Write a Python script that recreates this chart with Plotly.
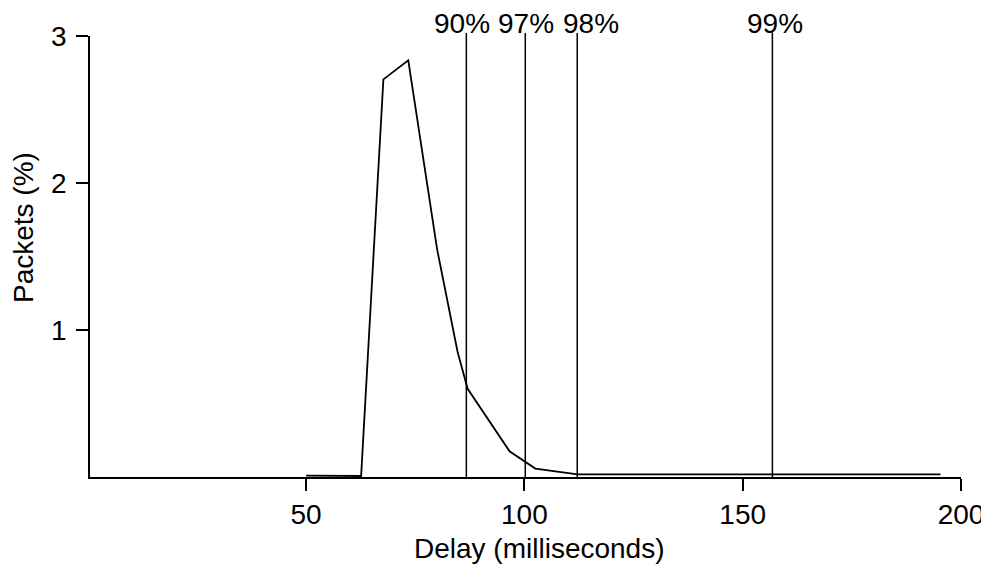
import plotly.graph_objects as go

delay_ms = [50, 62.6, 67.7, 73.4, 80.0, 84.7, 87.0, 96.6, 102.5, 112.2, 195.3]
packets_pct = [0.01, 0.007, 2.705, 2.834, 1.55, 0.85, 0.60, 0.175, 0.057, 0.018, 0.018]

pct_labels = ["90%", "97%", "98%", "99%"]
pct_delay = [86.7, 100.2, 112.1, 156.8]
label_shift = [-4, 1, 14, 3]

x_ticks = [50, 100, 150, 200]
y_ticks = [1, 2, 3]

FONT = "Liberation Sans, Arial, Helvetica, sans-serif"
FS = 28

fig = go.Figure()
fig.add_trace(go.Scatter(x=delay_ms, y=packets_pct, mode="lines",
                         line=dict(color="black", width=1.8), showlegend=False,
                         cliponaxis=False))

for lab, xv, sh in zip(pct_labels, pct_delay, label_shift):
    fig.add_shape(type="line", xref="x", yref="paper", x0=xv, x1=xv, y0=0, y1=1.007,
                  line=dict(color="black", width=1.5))
    fig.add_annotation(x=xv, xref="x", yref="paper", y=1.007, yanchor="bottom",
                       text=lab, showarrow=False, xshift=sh, yshift=-8.5,
                       font=dict(size=FS, color="black", family=FONT))

# axis titles
fig.add_annotation(x=0.5155, xref="paper", y=-0.163, yref="paper", text="Delay (milliseconds)",
                   showarrow=False, xanchor="center", yanchor="middle",
                   font=dict(size=FS, color="black", family=FONT))
fig.add_annotation(x=-0.0769, xref="paper", y=0.5646, yref="paper", text="Packets (%)",
                   showarrow=False, textangle=-90, xanchor="center", yanchor="middle",
                   font=dict(size=FS, color="black", family=FONT))

fig.update_layout(
    width=981, height=558,
    margin=dict(l=82, r=28, t=28, b=89),
    paper_bgcolor="white", plot_bgcolor="white",
    font=dict(family=FONT, size=FS, color="black"),
    xaxis=dict(range=[0.5, 200], tickvals=x_ticks, ticks="outside", ticklen=12,
               tickwidth=1.5, tickcolor="black", showline=True, linecolor="black",
               linewidth=1.5, showgrid=False, zeroline=False, automargin=False,
               tickfont=dict(size=FS)),
    yaxis=dict(range=[0, 3], tickvals=y_ticks, ticks="outside", ticklen=12,
               tickwidth=1.5, tickcolor="black", showline=True, linecolor="black",
               linewidth=1.5, showgrid=False, zeroline=False, automargin=False,
               ticklabelstandoff=4, tickfont=dict(size=FS)),
)

fig.write_html("out.html")
